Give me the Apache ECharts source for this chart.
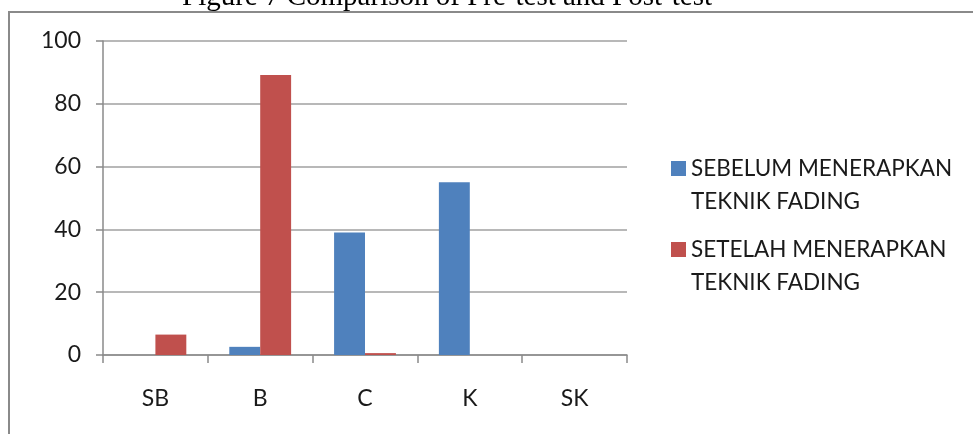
<!DOCTYPE html>
<html>
<head>
<meta charset="utf-8">
<script src="https://cdn.jsdelivr.net/npm/echarts@6/dist/echarts.min.js"></script>
<style>
  html, body { margin: 0; padding: 0; background: #fff; }
  #main { width: 973px; height: 434px; }
</style>
</head>
<body>
<div id="main"></div>
<script>
// data
var categories = ['SB', 'B', 'C', 'K', 'SK'];
var sebelum = [0, 2.6, 39, 55, 0];
var setelah = [6.5, 89.2, 0.6, 0, 0];
var seriesNames = ['SEBELUM MENERAPKAN\nTEKNIK FADING', 'SETELAH MENERAPKAN\nTEKNIK FADING'];
var yTicks = [0, 20, 40, 60, 80, 100];

var chartDom = document.getElementById('main');
var myChart = echarts.init(chartDom);
var option;

var font = 'Lato';

// blank first line so the icon sits beside the first text line
function legendFor(i, top) {
    return {
        data: [seriesNames[i]],
        left: 671,
        top: top,
        padding: 0,
        itemWidth: 15,
        itemHeight: 15,
        icon: 'rect',
        formatter: function (name) { return '\n' + name; },
        textStyle: {
            fontFamily: font,
            fontSize: 22.5,
            color: '#1a1a1a',
            lineHeight: 33
        }
    };
}

option = {
    animation: false,
    backgroundColor: '#fff',
    grid: { left: 103, right: 346, top: 41, bottom: 79 },
    legend: [legendFor(0, 119), legendFor(1, 200)],
    graphic: [
        {
            type: 'rect',
            shape: { x: 9, y: 12, width: 1100, height: 600 },
            style: { fill: null, stroke: '#8a8a8a', lineWidth: 2 },
            silent: true
        },
        {
            type: 'text',
            x: 447,
            y: -3,
            style: {
                text: 'Figure 7 Comparison of Pre-test and Post-test',
                font: '29px "Liberation Serif"',
                fill: '#000',
                align: 'center',
                verticalAlign: 'middle'
            }
        }
    ],
    xAxis: {
        type: 'category',
        data: categories,
        axisLine: { lineStyle: { color: '#8a8a8a', width: 1.5 } },
        axisTick: { show: true, length: 8, lineStyle: { color: '#8a8a8a', width: 1.5 } },
        axisLabel: { margin: 32, fontFamily: font, fontSize: 23, color: '#1a1a1a' }
    },
    yAxis: {
        type: 'value',
        min: 0,
        max: 100,
        interval: 20,
        axisLine: { show: true, lineStyle: { color: '#8a8a8a', width: 1.5 } },
        axisTick: { show: true, length: 7, lineStyle: { color: '#8a8a8a', width: 1.5 } },
        splitLine: { lineStyle: { color: '#a0a0a0', width: 1.5 } },
        axisLabel: {
            margin: 22,
            fontFamily: font,
            fontSize: 23,
            color: '#1a1a1a',
            formatter: function (v) { return yTicks.indexOf(v) >= 0 ? String(v) : ''; }
        }
    },
    series: [
        {
            name: seriesNames[0],
            type: 'bar',
            data: sebelum,
            barGap: '0%',
            barCategoryGap: '41%',
            itemStyle: { color: '#4F81BD' }
        },
        {
            name: seriesNames[1],
            type: 'bar',
            data: setelah,
            barGap: '0%',
            barCategoryGap: '41%',
            itemStyle: { color: '#C0504D' }
        }
    ]
};

myChart.setOption(option);
</script>
</body>
</html>
